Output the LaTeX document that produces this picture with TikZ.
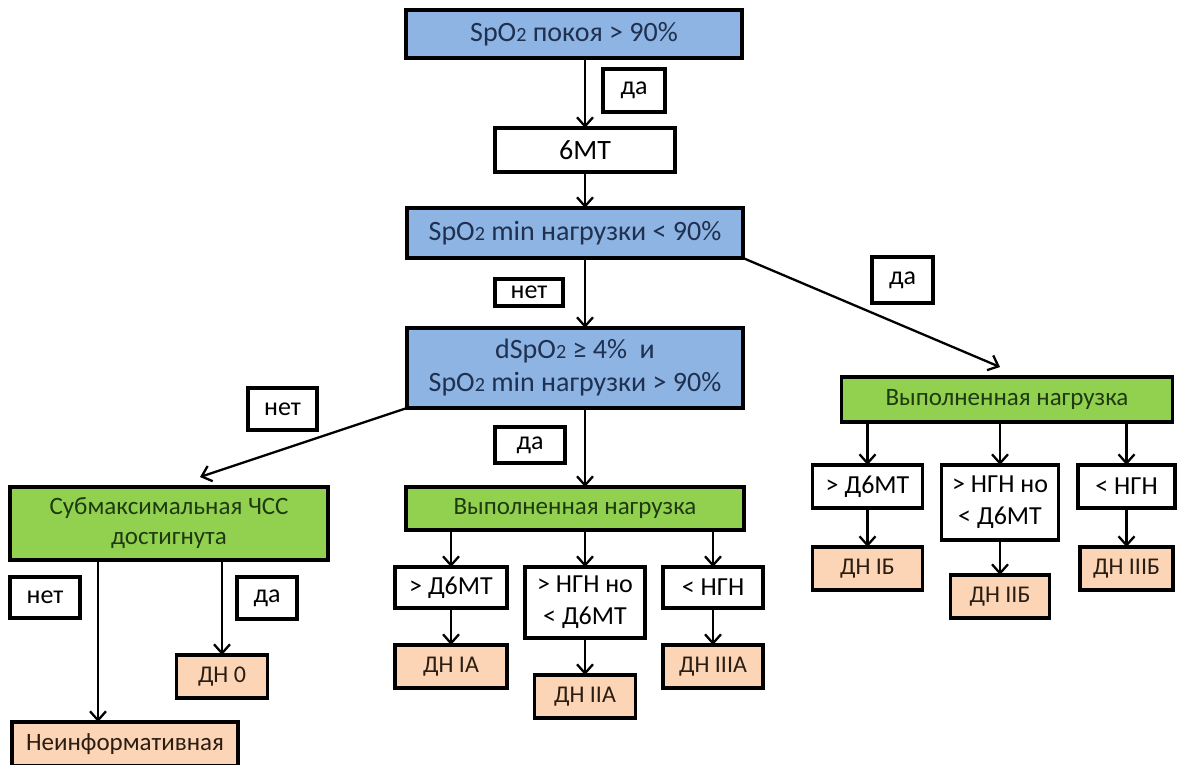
\documentclass[tikz,border=0pt]{standalone}
\usepackage{fontspec}
\setmainfont{Carlito}
\usetikzlibrary{arrows.meta,calc,positioning}
\definecolor{dnBlue}{HTML}{8DB4E2}
\definecolor{dnBlueText}{HTML}{1F3050}
\definecolor{dnGreen}{HTML}{92D050}
\definecolor{dnGreenText}{HTML}{1E3A10}
\definecolor{dnPeach}{HTML}{FBD5B5}
\definecolor{dnPeachText}{HTML}{2B1D12}
\newcommand{\spo}{SpO\scalebox{0.72}{2}}
\newcommand{\txtXL}{\fontsize{28}{33}\selectfont}
\newcommand{\txtL}{\fontsize{26}{32}\selectfont}
\newcommand{\txtM}{\fontsize{25}{30}\selectfont}
\newcommand{\txtS}{\fontsize{24}{28}\selectfont}
\tikzset{
  flow/.style={-{Straight Barb[length=9pt,width=16pt]}, line width=2.3pt},
  check box/.style={draw, line width=3.5pt, fill=dnBlue, text=dnBlueText,
    minimum width=336pt, minimum height=48pt, align=center, inner sep=2pt,
    outer sep=0pt, font=\txtXL},
  work box/.style={draw, line width=3.5pt, fill=dnGreen, text=dnGreenText,
    minimum height=43pt, align=center, inner sep=2pt, outer sep=0pt,
    font=\txtM},
  plain box/.style={draw, line width=3.5pt, fill=white, minimum height=41pt,
    align=center, inner sep=2pt, outer sep=0pt, font=\txtL},
  grade box/.style={draw, line width=3.5pt, fill=dnPeach, text=dnPeachText,
    minimum height=43pt, inner sep=2pt, outer sep=0pt, font=\txtS},
  answer/.style={draw, line width=3.5pt, fill=white, minimum width=62pt,
    minimum height=40pt, inner sep=2pt, outer sep=0pt, font=\txtL}
}
\begin{document}
\begin{tikzpicture}[x=1pt,y=-1pt]
  \useasboundingbox[fill=white] (0,0) rectangle (1178,764);
  \clip (0,0) rectangle (1178,764);
  % main column
  \node[check box] (rest) at (574,34) {\spo{} покоя > 90\%};
  \node[plain box, minimum width=180pt, minimum height=44pt, font=\txtXL,
    below=70pt of rest, xshift=11pt] (sixmt) {6МТ};
  \node[check box, minimum height=50pt, below=36pt of sixmt, xshift=-10pt]
    (load) {\spo{} min нагрузки < 90\%};
  \node[check box, minimum height=80pt, below=70pt of load] (delta)
    {d\spo{} ≥ 4\%~~и\\\spo{} min нагрузки > 90\%};
  \node[work box, minimum width=338pt, below=79pt of delta] (workM)
    {Выполненная нагрузка};
  \node[plain box, minimum width=112pt, below=37pt of workM.south west,
    xshift=45pt] (m1) {> Д6МТ};
  \node[plain box, minimum width=120pt, minimum height=71pt,
    below=37pt of workM.south, xshift=10pt] (m2) {> НГН но\\< Д6МТ};
  \node[plain box, minimum width=100pt, below=37pt of workM.south east,
    xshift=-31pt] (m3) {< НГН};
  \node[grade box, minimum width=112pt, below=37pt of m1] (dnIA) {ДН IА};
  \node[grade box, minimum width=101pt, below=37pt of m2] (dnIIA) {ДН IIА};
  \node[grade box, minimum width=100pt, below=37pt of m3] (dnIIIA) {ДН IIIА};
  % right branch
  \node[work box, minimum width=331pt, minimum height=45pt,
    below=119pt of load.south east, xshift=264pt] (workR)
    {Выполненная нагрузка};
  \node[plain box, minimum width=110pt, minimum height=43pt,
    below=43pt of workR.south west, xshift=26pt] (r1) {> Д6МТ};
  \node[plain box, minimum width=117pt, minimum height=75pt,
    below=43pt of workR.south, xshift=-7pt] (r2) {> НГН но\\< Д6МТ};
  \node[plain box, minimum width=97pt, minimum height=43pt,
    below=43pt of workR.south east, xshift=-46pt] (r3) {< НГН};
  \node[grade box, minimum width=110pt, below=39pt of r1] (dnIB) {ДН IБ};
  \node[grade box, minimum width=99pt, below=35pt of r2] (dnIIB) {ДН IIБ};
  \node[grade box, minimum width=93pt, below=39pt of r3] (dnIIIB) {ДН IIIБ};
  % left branch
  \node[work box, minimum width=318pt, minimum height=73pt,
    below=79pt of delta.south west, xshift=-238pt] (hrL)
    {Субмаксимальная ЧСС\\достигнута};
  \node[grade box, minimum width=91pt, below=95pt of hrL.south, xshift=53pt]
    (dn0) {ДН 0};
  \node[grade box, minimum width=226pt, minimum height=44pt, font=\txtM,
    below=162pt of hrL.south west, xshift=115pt] (noinfo) {Неинформативная};
  % answers
  \node[answer, minimum height=43pt, below=11pt of rest.south, xshift=60pt]
    (yes1) {да};
  \node[answer, minimum width=68pt, minimum height=27pt,
    below=21pt of load.south, xshift=-46pt] (no1) {нет};
  \node[answer, minimum width=70pt, minimum height=36pt,
    below=19pt of delta.south, xshift=-45pt] (yes2) {да};
  \node[answer, minimum width=61pt, minimum height=46pt,
    right=129pt of load.east, yshift=-47pt] (yes3) {да};
  \node[answer, minimum width=69pt, minimum height=42pt,
    left=90pt of delta.west, yshift=-41pt] (no2) {нет};
  \node[answer, minimum width=70pt, minimum height=41pt,
    below=17pt of hrL.south west, xshift=35pt] (no3) {нет};
  \node[answer, minimum width=60pt, minimum height=42pt,
    below=17pt of hrL.south, xshift=98pt] (yes4) {да};
  % connectors
  \draw[flow] (rest.south -| sixmt) -- (sixmt);
  \draw[flow] (sixmt) -- (load.north -| sixmt);
  \draw[flow] (load.south -| sixmt) -- (delta.north -| sixmt);
  \draw[flow] (delta.south -| sixmt) -- (workM.north -| sixmt);
  \draw[flow] (workM.south -| m1) -- (m1);
  \draw[flow] (workM.south -| m2) -- (m2);
  \draw[flow] (workM.south -| m3) -- (m3);
  \draw[flow] (m1) -- (dnIA);
  \draw[flow] (m2) -- (dnIIA);
  \draw[flow] (m3) -- (dnIIIA);
  \draw[flow] (load.south east) -- ($(workR.north -| r2)+(0,-10)$);
  \draw[flow] (workR.south -| r1) -- (r1);
  \draw[flow] (workR.south -| r2) -- (r2);
  \draw[flow] (workR.south -| r3) -- (r3);
  \draw[flow] (r1) -- (dnIB);
  \draw[flow] (r2) -- (dnIIB);
  \draw[flow] (r3) -- (dnIIIB);
  \draw[flow] (delta.south west) -- ($(hrL.north)+(31,-10)$);
  \draw[flow] ($(hrL.south)+(-71,0)$) -- ($(hrL.south |- noinfo.north)+(-71,0)$);
  \draw[flow] (hrL.south -| dn0) -- (dn0);
\end{tikzpicture}
\end{document}
